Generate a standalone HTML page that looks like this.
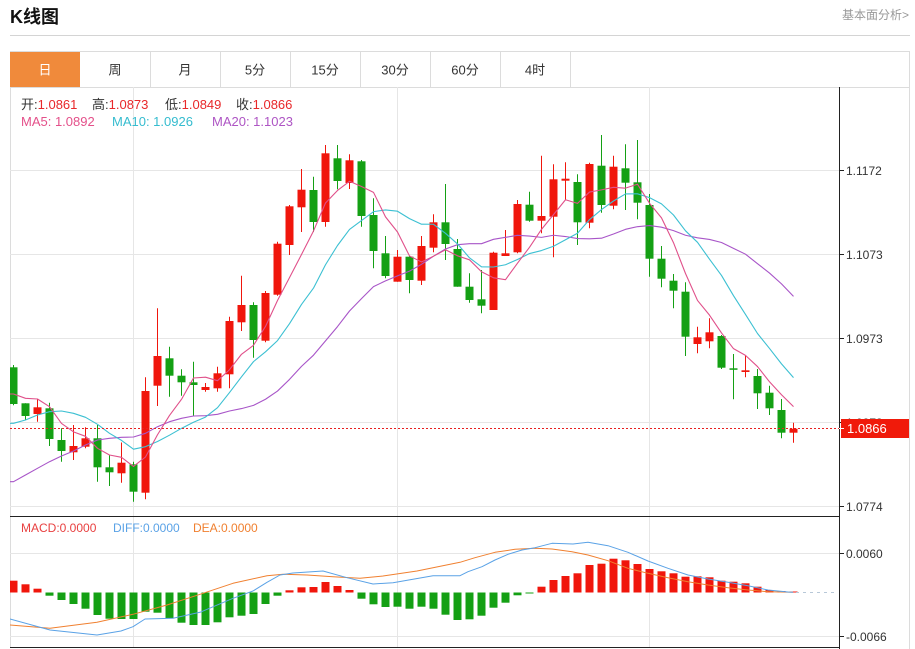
<!DOCTYPE html>
<html><head><meta charset="utf-8">
<style>
html,body{margin:0;padding:0;background:#fff;}
body{width:915px;height:649px;overflow:hidden;position:relative;font-family:"Liberation Sans","Noto Sans CJK SC",sans-serif;}
svg{position:absolute;left:0;top:0;}
text{font-family:"Liberation Sans","Noto Sans CJK SC",sans-serif;}
</style></head>
<body>
<svg id="k" width="915" height="649" viewBox="0 0 915 649" xmlns="http://www.w3.org/2000/svg">
<defs><clipPath id="cp"><rect x="10" y="87" width="829" height="560"/></clipPath></defs>
<!-- header -->
<text x="10" y="23" font-size="18" font-weight="bold" fill="#111">K线图</text>
<text x="909" y="19" font-size="12" fill="#999" text-anchor="end">基本面分析&gt;</text>
<line x1="10" y1="35.5" x2="910" y2="35.5" stroke="#d4d4d4" stroke-width="1"/>
<!-- tabs -->
<rect x="10.5" y="51.5" width="899" height="36" fill="#fff" stroke="#dcdcdc" stroke-width="1"/>
<rect x="10" y="52" width="70" height="35" fill="#f08a3b"/>
<g stroke="#dcdcdc" stroke-width="1">
<line x1="150.5" y1="52" x2="150.5" y2="87"/>
<line x1="220.5" y1="52" x2="220.5" y2="87"/>
<line x1="290.5" y1="52" x2="290.5" y2="87"/>
<line x1="360.5" y1="52" x2="360.5" y2="87"/>
<line x1="430.5" y1="52" x2="430.5" y2="87"/>
<line x1="500.5" y1="52" x2="500.5" y2="87"/>
<line x1="570.5" y1="52" x2="570.5" y2="87"/>
</g>
<g font-size="13" text-anchor="middle" fill="#333">
<text x="45" y="74.5" fill="#fff">日</text>
<text x="115" y="74.5">周</text>
<text x="185" y="74.5">月</text>
<text x="255" y="74.5">5分</text>
<text x="325" y="74.5">15分</text>
<text x="395" y="74.5">30分</text>
<text x="465" y="74.5">60分</text>
<text x="535" y="74.5">4时</text>
</g>
<!-- borders & grid -->
<line x1="10.5" y1="87" x2="10.5" y2="647" stroke="#dcdcdc"/>
<line x1="909.5" y1="52" x2="909.5" y2="649" stroke="#dcdcdc"/>
<g stroke="#e6e6e6" stroke-width="1">
<line x1="133.5" y1="87" x2="133.5" y2="647"/>
<line x1="397.5" y1="87" x2="397.5" y2="647"/>
<line x1="649.5" y1="87" x2="649.5" y2="647"/>
<line x1="10" y1="170.5" x2="839" y2="170.5"/>
<line x1="10" y1="254.5" x2="839" y2="254.5"/>
<line x1="10" y1="338.5" x2="839" y2="338.5"/>
<line x1="10" y1="422.5" x2="839" y2="422.5"/>
<line x1="10" y1="506.5" x2="839" y2="506.5"/>
<line x1="10" y1="553.5" x2="839" y2="553.5"/>
<line x1="10" y1="636.5" x2="839" y2="636.5"/>
</g>
<line x1="10" y1="516.5" x2="839" y2="516.5" stroke="#222"/>
<line x1="10" y1="647.5" x2="839" y2="647.5" stroke="#222"/>
<line x1="839.5" y1="87" x2="839.5" y2="649" stroke="#222"/>
<!-- axis ticks / labels -->
<g stroke="#222"><line x1="839" y1="170.5" x2="844" y2="170.5"/><line x1="839" y1="254.5" x2="844" y2="254.5"/><line x1="839" y1="338.5" x2="844" y2="338.5"/><line x1="839" y1="422.5" x2="844" y2="422.5"/><line x1="839" y1="506.5" x2="844" y2="506.5"/><line x1="839" y1="553.5" x2="844" y2="553.5"/><line x1="839" y1="636.5" x2="844" y2="636.5"/></g>
<g font-size="12" fill="#333">
<text x="846" y="175">1.1172</text>
<text x="846" y="259">1.1073</text>
<text x="846" y="343">1.0973</text>
<text x="846" y="427">1.0873</text>
<text x="846" y="511">1.0774</text>
<text x="846" y="558">0.0060</text>
<text x="846" y="641">-0.0066</text>
</g>
<!-- info text -->
<g font-size="13">
<text x="21" y="109" fill="#333">开:<tspan fill="#e8282a">1.0861</tspan></text>
<text x="92" y="109" fill="#333">高:<tspan fill="#e8282a">1.0873</tspan></text>
<text x="165" y="109" fill="#333">低:<tspan fill="#e8282a">1.0849</tspan></text>
<text x="236" y="109" fill="#333">收:<tspan fill="#e8282a">1.0866</tspan></text>
<text x="21" y="126" fill="#e4508a">MA5: 1.0892</text>
<text x="112" y="126" fill="#35bccf">MA10: 1.0926</text>
<text x="212" y="126" fill="#ae55c4">MA20: 1.1023</text>
</g>
<g font-size="12">
<text x="21" y="532" fill="#e84040">MACD:0.0000</text>
<text x="113" y="532" fill="#5aa2e6">DIFF:0.0000</text>
<text x="193" y="532" fill="#f08030">DEA:0.0000</text>
</g>
<g id="plot" clip-path="url(#cp)"></g>
<line x1="796" y1="592.5" x2="838" y2="592.5" stroke="#b8c8d8" stroke-dasharray="3,4"/>
<!-- price line + label -->
<line x1="10" y1="428.5" x2="839" y2="428.5" stroke="#e82020" stroke-dasharray="2,2"/>
<rect x="841" y="419" width="68" height="19" fill="#f01a0a"/>
<line x1="839" y1="428.5" x2="844" y2="428.5" stroke="#fff"/>
<text x="847" y="433" font-size="13" fill="#fff">1.0866</text>
</svg>
<script>
(function(){
var NS='http://www.w3.org/2000/svg';
var g=document.getElementById('plot');
function el(t,a){var e=document.createElementNS(NS,t);for(var k in a)e.setAttribute(k,a[k]);g.appendChild(e);return e;}
// [open, close, high, low] in pixel y
var C=[
[367.3,404,365,405.3],[403.3,416,403.3,420],[414,407.3,398.7,421.7],[408.3,439,402.7,446],[440,451,428.3,461.7],
[452.3,446,425,460],[446.7,438.3,427.3,448.3],[438.3,467.3,425,481.7],[467.3,472.3,455,486],[473.3,462.7,442.5,482.7],
[464.3,491.7,461.7,501.7],[492.7,391,377.3,499.3],[385.7,356,308.3,406],[358.3,375.7,346.7,396.7],[375.7,382.3,369.3,395.7],
[382.3,385,361.7,415.7],[390,387,383,391.7],[388.3,373.3,366.7,391.7],[374.3,321,316.7,388.3],[322.3,305,275.7,331],
[305,340,302.3,357.7],[340.7,293,291,342.3],[294.7,243.7,241.7,295.7],[245,206.3,205,255],[207.3,189.7,169,232],
[190,222,176.7,232],[222,153.3,145,226.7],[158.3,181,145,189.3],[183,160.3,154.3,189],[161.3,216,160,226.7],
[215,251,198.3,268.3],[253.3,276,236,278.3],[281.7,256.7,250,281.7],[256.7,280,256,293.3],[280.7,246,236,285],
[247.7,222.3,214.3,252.3],[222.3,244,184,260],[249,286.7,239,286.7],[286.7,300,273.3,302.7],[299.3,305.7,270,313.3],
[310,252.7,251.7,310],[256,253.3,230,256],[252.3,204,200,253.3],[204.7,220.7,191.7,221.7],[220.7,216,155.7,233.3],
[216.7,179.3,164.3,257.3],[180.7,178.7,162.3,200],[182,222.3,174.3,245],[222.7,164,162.7,228.3],[165.7,205,135,212.7],
[205.7,166.7,155.7,209.3],[168.3,182.7,144.3,210],[182.3,202.7,140,219.3],[205,258.7,194,276.7],[258.7,278.7,246,287.3],
[280.7,290.7,274,308.3],[291.7,336.7,282.3,356],[344,337.3,326.7,353.3],[341.3,332.3,318.3,348.3],[336,367.7,335,369],
[368.3,369.3,354,399.3],[372,370.3,355.7,377.3],[376,393.3,369,409],[392.7,408.3,385.7,415],[410,432.7,399,438.3],
[432.7,428.7,422.7,442.7]];
var RED='#f0160c',GRN='#14a014';
function cx(i){return 13.5+12*i;}
var H=[580.7,584.3,588.7,595.7,600,604,608.7,615,618.7,619,
619,611.7,612.7,618.3,622.7,625,625,622.3,617.3,615.7,
614,604,595.7,590.3,587.3,587,582,586,590,598.7,
604.3,607,606.7,608.7,606.7,608.7,614.7,620,619.3,615.7,
607.7,602.7,595.3,592.7,586.7,580,576,573.3,565,563.7,
558.7,560.3,564,569,571.3,573.3,576.7,576.3,577.3,580.7,
581.7,583.3,586.7,590,591,592];
var Z=592.5;
for(var i=0;i<H.length;i++){
  var v=H[i];var up=v<Z;var h=Math.abs(v-Z);if(h<1)h=1;
  el('rect',{x:cx(i)-4,y:up?Z-h:Z,width:8,height:h,fill:up?RED:GRN});
}
function pl(pts,col,w){el('polyline',{points:pts.map(function(p){return p[0]+','+p[1];}).join(' '),fill:'none',stroke:col,'stroke-width':w||1,'stroke-linejoin':'round'});}
var DEA=[[10,625],[50,628.3],[97,622.3],[133,614.3],[167,605],[200,594.3],[233,583.3],[267,575.7],[283,574.3],[307,575],[333,576.7],[360,578.3],[383,576],[417,571],[460,562.3],[475,557.7],[495,552.3],[515,549.3],[535,548.3],[552,549],[572,551.7],[588,555],[608,560.7],[628,568.3],[648,573.3],[668,577.7],[688,581.7],[708,585],[728,587.7],[748,590],[768,591.7],[793,592.3]];
var DIF=[[10,619],[50,630],[97,635],[121,631],[133,626.7],[145,619],[173,618.3],[200,612.3],[233,598.3],[253,591],[267,582.3],[280,575],[293,573],[323,571],[347,577.7],[373,584],[393,582.7],[433,575.7],[460,575.7],[468,571.7],[482,566.7],[495,560],[508,554.3],[522,550],[535,547.7],[552,543.3],[573,544],[588,542.3],[608,545.7],[628,552.3],[648,561],[668,568.3],[688,575],[708,579],[728,582.3],[748,585.7],[768,590],[788,592],[793,592.3]];
pl(DEA,'#f08030',1);
pl(DIF,'#5aa2e6',1);
// MAs
var cl=C.map(function(d){return d[1];});
var pre5=[394,398.3,399,406.7];
var pre10=[423.3,420,415,411.7,411,413.3,417.3,424.3,433.3];
var pre20=[481.7,475,468.3,461.7,456,451,445,440,438.3,437.3,437,433.3,426.7,421.7,418.3,416,415.7,414.3,411];
function ma(n,pre){var out=[];for(var i=0;i<cl.length;i++){if(i<n-1){out.push([cx(i),pre[i]]);}else{var s=0;for(var j=i-n+1;j<=i;j++)s+=cl[j];out.push([cx(i),s/n]);}}out.unshift([10,out[0][1]]);return out;}
// candles
for(var i=0;i<C.length;i++){
  var d=C[i];var up=d[1]<d[0];var col=up?RED:GRN;var x=cx(i);
  el('line',{x1:x,x2:x,y1:d[2],y2:d[3],stroke:col,'stroke-width':1});
  var t=Math.min(d[0],d[1]);var hh=Math.abs(d[0]-d[1]);if(hh<1.5)hh=1.5;
  el('rect',{x:x-4,y:t,width:8,height:hh,fill:col});
}
pl(ma(20,pre20),'#a855c8',1.1);
pl(ma(10,pre10),'#3cc0d2',1.1);
pl(ma(5,pre5),'#e0508a',1.1);
})();
</script>
</body></html>
